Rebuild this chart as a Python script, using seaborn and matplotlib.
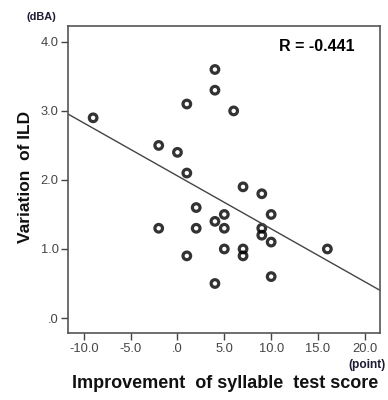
import numpy as np
import pandas as pd
import seaborn as sns
import matplotlib.pyplot as plt

# improvement of syllable test score (point)
improvement = [-9, 4, 4, 1, 6, -2, 0, 1, 7, 9,
               2, 5, 10, 4, -2, 2, 5, 9, 9, 10,
               5, 7, 7, 1, 16, 10, 4]
# variation of ILD (dBA)
ild_variation = [2.9, 3.6, 3.3, 3.1, 3.0, 2.5, 2.4, 2.1, 1.9, 1.8,
                 1.6, 1.5, 1.5, 1.4, 1.3, 1.3, 1.3, 1.3, 1.2, 1.1,
                 1.0, 1.0, 0.9, 0.9, 1.0, 0.6, 0.5]
r_value = -0.441

x_ticks = [-10, -5, 0, 5, 10, 15, 20]
x_labels = ['-10.0', '-5.0', '.0', '5.0', '10.0', '15.0', '20.0']
y_ticks = [0, 1, 2, 3, 4]
y_labels = ['.0', '1.0', '2.0', '3.0', '4.0']


def main():
    df = pd.DataFrame({'improvement': improvement, 'ild': ild_variation})

    sns.set_style('white')
    plt.rcParams['font.family'] = ['Liberation Sans', 'DejaVu Sans']

    fig = plt.figure(figsize=(3.88, 4.0), dpi=100)
    ax = fig.add_axes([0.176, 0.167, 0.803, 0.768])

    ax.set_xlim(-11.65, 21.6)
    ax.set_ylim(-0.22, 4.23)

    sns.regplot(data=df, x='improvement', y='ild', ci=None, truncate=False, ax=ax,
                scatter_kws=dict(s=30, facecolors='none', edgecolors='black', linewidths=2.3),
                line_kws=dict(color='#444444', lw=1.0))

    ax.set_xlim(-11.65, 21.6)
    ax.set_ylim(-0.22, 4.23)
    ax.set_xticks(x_ticks)
    ax.set_xticklabels(x_labels)
    ax.set_yticks(y_ticks)
    ax.set_yticklabels(y_labels)
    ax.tick_params(axis='both', direction='out', length=5, width=1.0, color='#444444',
                   labelsize=9.3, labelcolor='#444444', pad=2)
    ax.tick_params(left=True, bottom=True)
    for sp in ax.spines.values():
        sp.set_color('#555555')
        sp.set_linewidth(1.2)

    ax.set_xlabel('')
    ax.set_ylabel('')
    fig.text(0.58, 0.042, 'Improvement  of syllable  test score', ha='center', va='center',
             fontsize=13, fontweight='bold', color='#111111')
    fig.text(0.065, 0.557, 'Variation  of ILD', ha='center', va='center', rotation=90,
             fontsize=12.5, fontweight='bold', color='#111111')
    fig.text(0.106, 0.957, '(dBA)', ha='center', va='center', fontsize=7.8,
             fontweight='bold', color='#1a1a33')
    fig.text(0.945, 0.087, '(point)', ha='center', va='center', fontsize=8.6,
             fontweight='bold', color='#1a1a33')
    ax.text(0.92, 0.933, f'R = {r_value}', transform=ax.transAxes, ha='right', va='center',
            fontsize=11.5, fontweight='bold', color='black')

    plt.savefig('out.png', dpi=100)
    plt.close()


if __name__ == "__main__":
    main()
